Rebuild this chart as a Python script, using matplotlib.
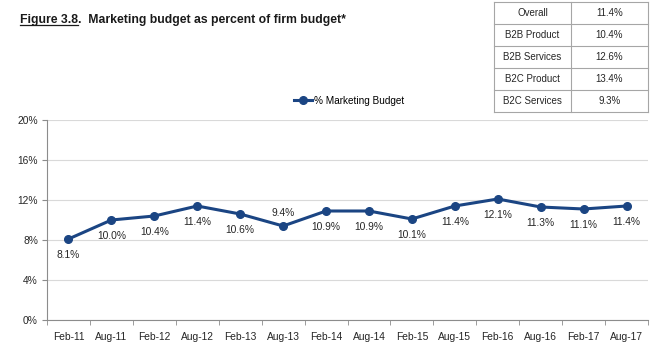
import matplotlib
matplotlib.use("Agg")
import matplotlib.pyplot as plt
from matplotlib.lines import Line2D
import numpy as np

plt.rcParams['font.family'] = ['Liberation Sans Narrow', 'Liberation Sans', 'DejaVu Sans']

periods = ["Feb-11", "Aug-11", "Feb-12", "Aug-12", "Feb-13", "Aug-13", "Feb-14",
           "Aug-14", "Feb-15", "Aug-15", "Feb-16", "Aug-16", "Feb-17", "Aug-17"]
marketing_pct = [8.1, 10.0, 10.4, 11.4, 10.6, 9.4, 10.9, 10.9, 10.1, 11.4, 12.1, 11.3, 11.1, 11.4]
label_above = [False, False, False, False, False, True, False,
               False, False, False, False, False, False, False]

segments = ["Overall", "B2B Product", "B2B Services", "B2C Product", "B2C Services"]
segment_pct = [11.4, 10.4, 12.6, 13.4, 9.3]

yticks = [0, 4, 8, 12, 16, 20]

navy = "#1B4583"
grid_c = "#D9D9D9"
spine_c = "#8C8C8C"
text_c = "#262626"

fig = plt.figure(figsize=(6.66, 3.43), dpi=100)
ax = fig.add_axes([47 / 666, 1 - 320 / 343, (648 - 47) / 666, 200 / 343])

x = np.arange(len(periods))
ax.plot(x, marketing_pct, color=navy, lw=2.2, marker="o", ms=5.5, zorder=3)

for xi, v, up in zip(x, marketing_pct, label_above):
    off = 5.5 if up else -8
    ax.annotate(f"{v:.1f}%", (xi, v), xytext=(0, off), textcoords="offset points",
                ha="center", va="bottom" if up else "top", fontsize=7.4, color=text_c)

ax.set_xlim(-0.5, len(periods) - 0.5)
ax.set_ylim(0, 20)
ax.set_yticks(yticks)
ax.set_yticklabels([f"{t}%" for t in yticks])
ax.set_xticks(x)
ax.set_xticklabels(periods)
ax.set_xticks(np.arange(-0.5, len(periods)), minor=True)
ax.tick_params(axis="x", which="major", length=0, pad=9, labelsize=7.4, labelcolor=text_c)
ax.tick_params(axis="x", which="minor", length=3.5, color=spine_c, direction="out")
ax.tick_params(axis="y", length=3.5, color=spine_c, labelsize=7.4, labelcolor=text_c, pad=3)
ax.yaxis.grid(True, color=grid_c, lw=0.8)
ax.set_axisbelow(True)
for s in ("top", "right"):
    ax.spines[s].set_visible(False)
for s in ("left", "bottom"):
    ax.spines[s].set_color(spine_c)
    ax.spines[s].set_linewidth(0.8)

# legend
handle = Line2D([0], [0], color=navy, lw=2.2, marker="o", ms=5.5)
fig.legend([handle], ["% Marketing Budget"], loc="center", bbox_to_anchor=(349 / 666, 1 - 101 / 343),
           frameon=False, fontsize=7.2, handlelength=1.8, handletextpad=0.2)

# title with underlined figure number
fig.canvas.draw()
renderer = fig.canvas.get_renderer()
t1 = fig.text(20 / 666, 1 - 20 / 343, "Figure 3.8", fontsize=8.8, fontweight="bold",
              va="center", ha="left", color="#1a1a1a")
bb = t1.get_window_extent(renderer).transformed(fig.transFigure.inverted())
fig.text(bb.x1, 1 - 20 / 343, ".  Marketing budget as percent of firm budget*", fontsize=8.8,
         fontweight="bold", va="center", ha="left", color="#1a1a1a")
fig.add_artist(Line2D([bb.x0, bb.x1], [bb.y0 + 0.002, bb.y0 + 0.002], color="#1a1a1a", lw=0.9,
                      transform=fig.transFigure))

# segment summary table
tab_left, tab_mid, tab_right = 494 / 666, 571 / 666, 648 / 666
row_h = 22 / 343
tab_top = 1 - 2 / 343
border = "#A6A6A6"
for i, (seg, val) in enumerate(zip(segments, segment_pct)):
    yc = tab_top - (i + 0.5) * row_h
    fig.text((tab_left + tab_mid) / 2, yc, seg, ha="center", va="center", fontsize=7, color=text_c)
    fig.text((tab_mid + tab_right) / 2, yc, f"{val:.1f}%", ha="center", va="center", fontsize=7,
             color=text_c)
for i in range(len(segments) + 1):
    yy = tab_top - i * row_h
    fig.add_artist(Line2D([tab_left, tab_right], [yy, yy], color=border, lw=0.8, transform=fig.transFigure))
ybot = tab_top - len(segments) * row_h
for xx in (tab_left, tab_mid, tab_right):
    fig.add_artist(Line2D([xx, xx], [ybot, tab_top], color=border, lw=0.8, transform=fig.transFigure))

fig.savefig("out.png", dpi=100)
